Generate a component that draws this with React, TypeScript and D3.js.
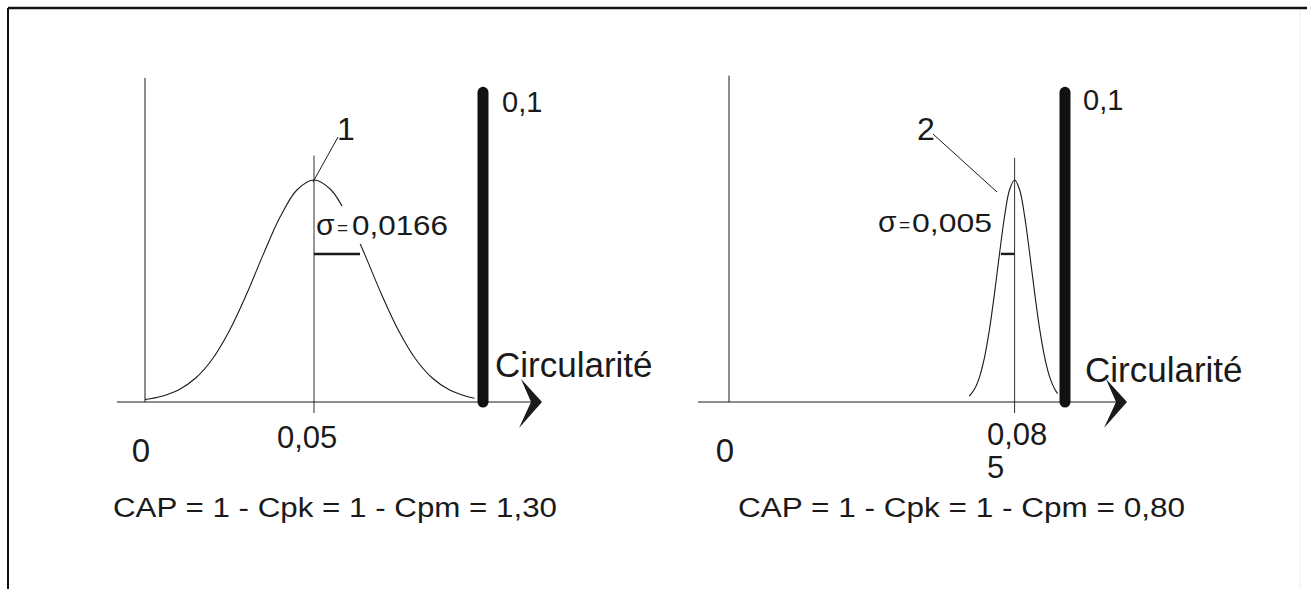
import React from "react";
import * as d3 from "d3";

// ---- data ----
const curve1X = [0, 0.005, 0.01, 0.015, 0.02, 0.025, 0.03, 0.035, 0.04, 0.045, 0.05, 0.055, 0.06, 0.065, 0.07, 0.075, 0.08, 0.085, 0.09, 0.095, 0.0975];
const curve1Y = [0.011, 0.026, 0.055, 0.108, 0.195, 0.322, 0.484, 0.665, 0.834, 0.956, 1, 0.956, 0.834, 0.665, 0.484, 0.322, 0.195, 0.108, 0.055, 0.026, 0.017];
const curve2X = [0.0715, 0.073, 0.0745, 0.076, 0.0775, 0.079, 0.0805, 0.082, 0.0835, 0.085, 0.0865, 0.088, 0.0895, 0.091, 0.0925, 0.094, 0.0955, 0.097, 0.0978];
const curve2Y = [0.026, 0.056, 0.11, 0.198, 0.325, 0.487, 0.667, 0.835, 0.956, 1, 0.956, 0.835, 0.667, 0.487, 0.325, 0.198, 0.11, 0.056, 0.038];
const means = [0.05, 0.085];
const sigmas = [0.0166, 0.005];
const limit = 0.1;
const curveLabels = ["1", "2"];
const sigmaLabels = ["0,0166", "0,005"];
const meanLabels = [["0,05"], ["0,08", "5"]];
const originLabel = "0";
const limitLabel = "0,1";
const axisTitle = "Circularité";
const capLabels = ["CAP = 1 - Cpk = 1 - Cpm = 1,30", "CAP = 1 - Cpk = 1 - Cpm = 0,80"];

const FONT = "'Liberation Sans', Arial, Helvetica, sans-serif";
const INK = "#1a1a1a";

// ---- layout (positions / styles only) ----
const layout = [
  {
    x0: 145, x1: 483, yAxisTop: 1.46, axisStart: 117, tipOff: 59,
    circX: 495, circY: 377, limitX: 502, limitY: 112,
    labelX: 337, labelY: 140, leadFrom: [338, 137], leadTo: [313, 182],
    sigX: 316, sigNumX: 352, sigNumW: 96, sigNumSize: 28, sigY: 235, sigDir: 1,
    sigMask: [336, 206, 116, 38],
    meanLabelX: 277, meanLabelY: 448, capX: 113, capW: 444, meanTop: 1.11,
  },
  {
    x0: 729, x1: 1065, yAxisTop: 1.47, axisStart: 698, tipOff: 62,
    circX: 1085, circY: 382, limitX: 1083, limitY: 110,
    labelX: 917, labelY: 140, leadFrom: [933, 134], leadTo: [997, 192],
    sigX: 878, sigNumX: 912, sigNumW: 80, sigNumSize: 25, sigY: 232, sigDir: -1,
    sigMask: null,
    meanLabelX: 987, meanLabelY: 445, capX: 738, capW: 447, meanTop: 1.1,
  },
];

const curvesX = [curve1X, curve2X];
const curvesY = [curve1Y, curve2Y];

const yScale = d3.scaleLinear().domain([0, 1]).range([402, 180]);

function Panel({ i }: { i: number }) {
  const L = layout[i];
  const x = d3.scaleLinear().domain([0, limit]).range([L.x0, L.x1]);
  const y = yScale;
  const pts = curvesX[i].map((v, k) => [v, curvesY[i][k]] as [number, number]);
  const line = d3
    .line<[number, number]>()
    .x((d) => x(d[0]))
    .y((d) => y(d[1]))
    .curve(d3.curveCatmullRom.alpha(0.5));
  const tip = L.x1 + L.tipOff;
  const ax = y(0);
  const mx = x(means[i]);
  const sigLen = sigmas[i] * 0.82 * (x(1) - x(0));
  const sigBarY = y(0.667);
  const chev = `M${tip - 21},${ax - 23} L${tip},${ax} L${tip - 23},${ax + 26} L${tip - 11},${ax} Z`;
  return (
    <g>
      {/* y axis */}
      <line x1={L.x0} x2={L.x0} y1={y(L.yAxisTop)} y2={ax} stroke={INK} strokeWidth={1} />
      {/* x axis */}
      <line x1={L.axisStart} x2={tip - 4} y1={ax} y2={ax} stroke={INK} strokeWidth={1} />
      <path d={chev} fill={INK} />
      {/* mean line */}
      <line x1={mx} x2={mx} y1={y(L.meanTop)} y2={ax + 11} stroke={INK} strokeWidth={0.9} />
      {/* distribution curve */}
      <path d={line(pts) || ""} fill="none" stroke={INK} strokeWidth={1.1} />
      {L.sigMask && (
        <rect x={L.sigMask[0]} y={L.sigMask[1]} width={L.sigMask[2]} height={L.sigMask[3]} fill="#fff" />
      )}
      {/* sigma bar */}
      <line x1={mx} x2={mx + L.sigDir * sigLen} y1={sigBarY} y2={sigBarY} stroke={INK} strokeWidth={2.4} />
      {/* upper limit bar */}
      <line x1={x(limit)} x2={x(limit)} y1={y(1.395)} y2={ax} stroke="#111" strokeWidth={11} strokeLinecap="round" />
      <text x={L.limitX} y={L.limitY} fontSize={29} fontFamily={FONT} fill={INK}>{limitLabel}</text>
      {/* curve label + leader */}
      <text x={L.labelX} y={L.labelY} fontSize={32} fontFamily={FONT} fill={INK}>{curveLabels[i]}</text>
      <line x1={L.leadFrom[0]} y1={L.leadFrom[1]} x2={L.leadTo[0]} y2={L.leadTo[1]} stroke={INK} strokeWidth={1} />
      {/* sigma text */}
      <text x={L.sigX} y={L.sigY} fontSize={30} fontFamily={FONT} fill={INK}>σ</text>
      <text x={L.sigX + 21} y={L.sigY - 1} fontSize={19} fontFamily={FONT} fill={INK}>=</text>
      <text x={L.sigNumX} y={L.sigY} fontSize={L.sigNumSize} fontFamily={FONT} fill={INK}
        textLength={L.sigNumW} lengthAdjust="spacingAndGlyphs">{sigmaLabels[i]}</text>
      {/* axis title */}
      <text x={L.circX} y={L.circY} fontSize={35} fontFamily={FONT} fill={INK}>{axisTitle}</text>
      {/* tick labels */}
      <text x={L.x0 - 4} y={462} fontSize={33} fontFamily={FONT} fill={INK} textAnchor="middle">{originLabel}</text>
      <text x={L.meanLabelX} y={L.meanLabelY} fontSize={31} fontFamily={FONT} fill={INK}>
        {meanLabels[i].map((s, k) => (
          <tspan key={k} x={L.meanLabelX} dy={k === 0 ? 0 : 33}>{s}</tspan>
        ))}
      </text>
      {/* CAP formula */}
      <text x={L.capX} y={517} fontSize={27} fontFamily={FONT} fill={INK}
        textLength={L.capW} lengthAdjust="spacingAndGlyphs">{capLabels[i]}</text>
    </g>
  );
}

export default function App() {
  return (
    <svg width={1307} height={589} style={{ position: "absolute", left: 0, top: 0, background: "#fff" }}>
      <rect x={0} y={0} width={1307} height={589} fill="#fff" />
      {/* frame */}
      <line x1={8} x2={1307} y1={8} y2={8} stroke="#111" strokeWidth={2.5} />
      <line x1={8} x2={8} y1={8} y2={589} stroke="#111" strokeWidth={2} />
      <line x1={1300} x2={1300} y1={10} y2={589} stroke="#eee" strokeWidth={1} />
      {means.map((_, i) => (
        <Panel key={i} i={i} />
      ))}
    </svg>
  );
}
